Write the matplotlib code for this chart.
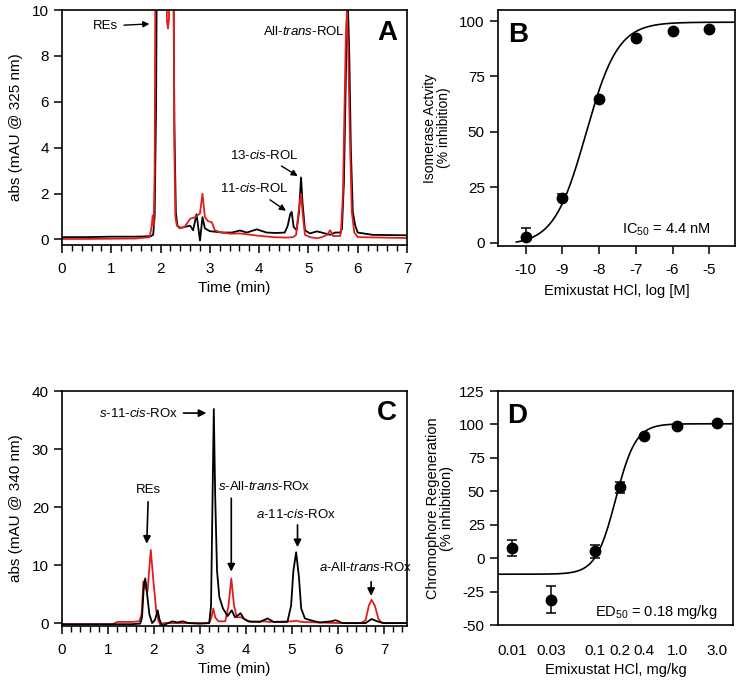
import numpy as np
import matplotlib
matplotlib.use("Agg")
import matplotlib.pyplot as plt
from matplotlib.ticker import MultipleLocator, FixedLocator

plt.rcParams['font.family'] = ['Liberation Sans', 'DejaVu Sans']
plt.rcParams['mathtext.fontset'] = 'custom'
plt.rcParams['mathtext.rm'] = 'Liberation Sans'
plt.rcParams['mathtext.it'] = 'Liberation Sans:italic'
plt.rcParams['mathtext.bf'] = 'Liberation Sans:bold'
plt.rcParams['axes.unicode_minus'] = False

RED = '#e01e1e'

# ---- panel A: chromatogram at 325 nm ----
a_black_t = [0, 0.5, 1.0, 1.5, 1.8, 1.85, 1.88, 1.91, 1.93, 2.25, 2.28, 2.31, 2.34,
             2.4, 2.5, 2.6, 2.66, 2.73, 2.8, 2.85, 2.9, 3.0, 3.26, 3.45, 3.61, 3.75,
             3.95, 4.15, 4.35, 4.52, 4.58, 4.63, 4.66, 4.7, 4.76, 4.81, 4.85, 4.88,
             4.93, 5.03, 5.17, 5.27, 5.44, 5.54, 5.64, 5.68, 5.72, 5.75, 5.78, 5.8,
             5.83, 5.86, 5.9, 5.95, 6.0, 6.3, 7.0]
a_black_v = [0.1, 0.1, 0.12, 0.12, 0.14, 0.2, 1.0, 6.0, 15, 15, 5.0, 1.2, 0.6,
             0.5, 0.55, 0.6, 0.4, 1.1, -0.05, 0.97, 0.48, 0.36, 0.3, 0.3, 0.39, 0.3,
             0.44, 0.3, 0.28, 0.3, 0.6, 1.1, 1.2, 0.55, 0.4, 1.2, 2.7, 1.6,
             0.4, 0.26, 0.35, 0.3, 0.2, 0.3, 0.3, 0.45, 2.5, 6.0, 9.6, 10.3,
             8.0, 4.0, 1.2, 0.6, 0.3, 0.2, 0.18]
a_red_t = [0, 0.5, 1.0, 1.5, 1.78, 1.82, 1.84, 1.86, 1.88, 1.9, 2.1, 2.13, 2.15,
           2.17, 2.2, 2.26, 2.28, 2.3, 2.33, 2.39, 2.49, 2.6, 2.7, 2.8, 2.85,
           2.9, 2.96, 3.04, 3.1, 3.2, 3.41, 3.61, 3.95, 4.28, 4.56, 4.69, 4.75,
           4.8, 4.85, 4.88, 4.93, 5.03, 5.17, 5.27, 5.38, 5.44, 5.5, 5.64, 5.66,
           5.7, 5.73, 5.76, 5.78, 5.81, 5.84, 5.88, 5.93, 6.0, 6.5, 7.0]
a_red_v = [0.02, 0.02, 0.03, 0.04, 0.1, 0.6, 1.05, 0.6, 3.0, 15, 15, 9.5, 9.2,
           9.6, 15, 15, 4.0, 1.0, 0.6, 0.48, 0.55, 0.9, 0.97, 1.13, 2.0,
           0.97, 0.8, 0.75, 0.4, 0.32, 0.25, 0.26, 0.17, 0.1, 0.08, 0.1, 0.2,
           1.2, 2.0, 1.2, 0.2, 0.1, 0.05, 0.1, 0.2, 0.4, 0.15, 0.15, 0.3,
           2.0, 5.5, 9.0, 9.9, 8.0, 4.5, 1.2, 0.3, 0.1, 0.08, 0.06]

# ---- panel C: chromatogram at 340 nm ----
c_black_t = [0, 0.5, 1.0, 1.5, 1.7, 1.74, 1.78, 1.81, 1.85, 1.9, 1.96, 2.02, 2.08,
             2.12, 2.18, 2.25, 2.4, 2.5, 2.62, 2.75, 3.0, 3.2, 3.24, 3.27, 3.3,
             3.33, 3.37, 3.42, 3.5, 3.6, 3.69, 3.76, 3.82, 3.88, 3.95, 4.05, 4.3,
             4.47, 4.6, 4.9, 4.98, 5.03, 5.09, 5.15, 5.2, 5.28, 5.4, 5.6, 5.85,
             5.95, 6.1, 6.6, 6.73, 6.85, 7.0, 7.5]
c_black_v = [-0.2, -0.2, -0.2, -0.2, -0.1, 1.0, 6.5, 7.7, 5.0, 1.5, 0.0, 0.5, 2.2,
             0.6, -0.5, -0.2, 0.3, 0.1, 0.3, 0.0, -0.1, 0.0, 3.0, 20, 36.9,
             22, 9.0, 4.5, 2.5, 1.2, 2.2, 1.0, 1.3, 1.7, 0.8, 0.3, 0.2,
             0.8, 0.2, 0.2, 3.0, 9.0, 12.2, 8.0, 2.5, 0.8, 0.5, 0.1, 0.3,
             0.5, 0.0, 0.0, 0.7, 0.3, 0.0, 0.0]
c_red_t = [0, 0.5, 1.1, 1.2, 1.5, 1.68, 1.73, 1.77, 1.81, 1.86, 1.93, 1.99, 2.05,
           2.1, 2.15, 2.2, 2.5, 3.0, 3.2, 3.25, 3.29, 3.33, 3.4, 3.55, 3.62,
           3.68, 3.74, 3.8, 3.9, 4.0, 4.1, 4.4, 4.5, 5.0, 5.1, 5.2, 6.0, 6.5,
           6.6, 6.67, 6.73, 6.8, 6.88, 6.95, 7.5]
c_red_v = [-0.2, -0.2, -0.2, 0.2, 0.2, 0.3, 1.5, 7.2, 6.0, 5.5, 12.6, 7.0, 2.0,
           0.3, -0.5, 0.0, 0.0, 0.0, 0.0, 1.0, 2.5, 1.0, 0.3, 0.3, 3.0,
           7.7, 3.0, 1.0, 1.0, 0.5, 0.2, 0.3, 0.2, 0.3, 0.4, 0.2, 0.0, 0.0,
           0.5, 3.0, 4.0, 3.0, 0.7, 0.0, 0.0]

# ---- panel B: isomerase inhibition ----
b_logconc = [-10, -9, -8, -7, -6, -5]
b_inhib = [2.5, 20, 65, 92.5, 95.5, 96.5]
b_err = [4, 2, 0, 0, 0, 0]
b_fit_bottom, b_fit_top, b_fit_logic50, b_fit_hill = -1.0, 99.5, np.log10(4.4e-9), 1.0

# ---- panel D: chromophore regeneration ----
d_dose = [0.01, 0.03, 0.1, 0.2, 0.4, 1.0, 3.0]
d_resp = [7.5, -31, 5, 53, 91, 99, 101]
d_err = [6, 10, 5, 4, 0, 0, 0]
d_ticklabels = ['0.01', '0.03', '0.1', '0.2', '0.4', '1.0', '3.0']
d_fit_bottom, d_fit_top, d_fit_ed50, d_fit_hill = -12.0, 100.5, 0.18, 3.6

fig = plt.figure(figsize=(7.38, 6.81), dpi=100)
axA = fig.add_axes([0.084, 0.640, 0.4675, 0.3453])
axB = fig.add_axes([0.6748, 0.6388, 0.3211, 0.3465])
axC = fig.add_axes([0.084, 0.0808, 0.4675, 0.3450])
axD = fig.add_axes([0.6748, 0.0822, 0.3184, 0.3436])

for ax in (axA, axB, axC, axD):
    for s in ax.spines.values():
        s.set_linewidth(1.2)
    ax.tick_params(labelsize=11, width=1.1, length=6, direction='out')
    ax.tick_params(which='minor', width=1.0, length=4, direction='out')
    ax.tick_params(axis='x', pad=6)

# chromatograms
axA.plot(a_black_t, a_black_v, color='black', lw=1.3)
axA.plot(a_red_t, a_red_v, color=RED, lw=1.3)
axA.set_xlim(0, 7)
axA.set_ylim(-0.25, 10)
axA.xaxis.set_major_locator(MultipleLocator(1))
axA.xaxis.set_minor_locator(MultipleLocator(0.2))
axA.yaxis.set_major_locator(MultipleLocator(2))
axA.set_xlabel('Time (min)', fontsize=11, labelpad=4)
axA.set_ylabel('abs (mAU @ 325 nm)', fontsize=11, labelpad=6)
arr = dict(arrowstyle='-|>', color='black', lw=1.0, mutation_scale=9)
axA.annotate('REs', xy=(1.83, 9.4), xytext=(0.89, 9.3), fontsize=9.5,
             ha='center', va='center', arrowprops=arr)
axA.text(4.91, 9.05, 'All-$\\mathit{trans}$-ROL', fontsize=9.5, ha='center', va='center')
axA.annotate('13-$\\mathit{cis}$-ROL', xy=(4.83, 2.7), xytext=(4.1, 3.67), fontsize=9.5,
             ha='center', va='center', arrowprops=arr)
axA.annotate('11-$\\mathit{cis}$-ROL', xy=(4.59, 1.18), xytext=(3.9, 2.2), fontsize=9.5,
             ha='center', va='center', arrowprops=arr)
axA.text(0.971, 0.957, 'A', transform=axA.transAxes, fontsize=20, fontweight='bold',
         ha='right', va='top')

axC.plot(c_red_t, c_red_v, color=RED, lw=1.3)
axC.plot(c_black_t, c_black_v, color='black', lw=1.3)
axC.set_xlim(0, 7.5)
axC.set_ylim(-0.5, 40)
axC.xaxis.set_major_locator(MultipleLocator(1))
axC.xaxis.set_minor_locator(MultipleLocator(0.2))
axC.yaxis.set_major_locator(MultipleLocator(10))
axC.set_xlabel('Time (min)', fontsize=11, labelpad=4)
axC.set_ylabel('abs (mAU @ 340 nm)', fontsize=11, labelpad=6)
arrC = dict(arrowstyle='-|>', color='black', lw=1.2, mutation_scale=11)
axC.annotate('$\\mathit{s}$-11-$\\mathit{cis}$-ROx', xy=(3.2, 36.2), xytext=(2.52, 36.2),
             fontsize=9.5, ha='right', va='center', arrowprops=arrC)
axC.annotate('REs', xy=(1.84, 13.2), xytext=(1.88, 22.9), fontsize=9.5,
             ha='center', va='center', arrowprops=arrC)
axC.annotate('', xy=(3.68, 8.4), xytext=(3.68, 22.0), arrowprops=arrC)
axC.text(4.4, 23.5, '$\\mathit{s}$-All-$\\mathit{trans}$-ROx', fontsize=9.5,
         ha='center', va='center')
axC.annotate('', xy=(5.12, 12.6), xytext=(5.12, 17.4), arrowprops=arrC)
axC.text(5.08, 18.8, '$\\mathit{a}$-11-$\\mathit{cis}$-ROx', fontsize=9.5,
         ha='center', va='center')
axC.annotate('', xy=(6.72, 4.2), xytext=(6.72, 7.6), arrowprops=arrC)
axC.text(6.61, 9.5, '$\\mathit{a}$-All-$\\mathit{trans}$-ROx', fontsize=9.5,
         ha='center', va='center')
axC.text(0.971, 0.962, 'C', transform=axC.transAxes, fontsize=20, fontweight='bold',
         ha='right', va='top')

# dose-response B
xfit = np.linspace(-10.25, -4.3, 300)
yfit = b_fit_bottom + (b_fit_top - b_fit_bottom) / (1 + 10 ** ((b_fit_logic50 - xfit) * b_fit_hill))
axB.plot(xfit, yfit, color='black', lw=1.2)
axB.errorbar(b_logconc, b_inhib, yerr=[[0] * len(b_err), b_err], fmt='o', color='black',
             ms=7.5, capsize=3.5, elinewidth=1.1, capthick=1.1)
axB.set_xlim(-10.75, -4.3)
axB.set_ylim(-1.5, 105)
axB.xaxis.set_major_locator(MultipleLocator(1))
axB.yaxis.set_major_locator(MultipleLocator(25))
axB.set_xlabel('Emixustat HCl, log [M]', fontsize=10.5, labelpad=5)
axB.set_ylabel('Isomerase Actvity\n(% inhibition)', fontsize=10, linespacing=1.0, labelpad=6)
axB.text(-7.38, 5.9, 'IC$_{50}$ = 4.4 nM', fontsize=10.5, ha='left', va='center')
axB.text(0.042, 0.949, 'B', transform=axB.transAxes, fontsize=20, fontweight='bold',
         ha='left', va='top')

# dose-response D
dfit = np.logspace(np.log10(0.0068), np.log10(4.7), 400)
dyfit = d_fit_bottom + (d_fit_top - d_fit_bottom) / (1 + (d_fit_ed50 / dfit) ** d_fit_hill)
axD.set_xscale('log')
axD.plot(dfit, dyfit, color='black', lw=1.2)
axD.errorbar(d_dose, d_resp, yerr=d_err, fmt='o', color='black', ms=7.5,
             capsize=3.5, elinewidth=1.1, capthick=1.1)
axD.set_xlim(0.0068, 4.7)
axD.set_ylim(-50, 125)
axD.xaxis.set_major_locator(FixedLocator(d_dose))
axD.xaxis.set_minor_locator(FixedLocator([]))
axD.set_xticklabels(d_ticklabels)
axD.tick_params(axis='x', length=0, pad=14)
axD.yaxis.set_major_locator(MultipleLocator(25))
axD.set_xlabel('Emixustat HCl, mg/kg', fontsize=10.5, labelpad=3)
axD.set_ylabel('Chromophore Regeneration\n(% inhibition)', fontsize=10.5, linespacing=1.0)
axD.text(0.1, -40, 'ED$_{50}$ = 0.18 mg/kg', fontsize=10.5, ha='left', va='center')
axD.text(0.04, 0.949, 'D', transform=axD.transAxes, fontsize=20, fontweight='bold',
         ha='left', va='top')

fig.savefig('out.png', dpi=100)
